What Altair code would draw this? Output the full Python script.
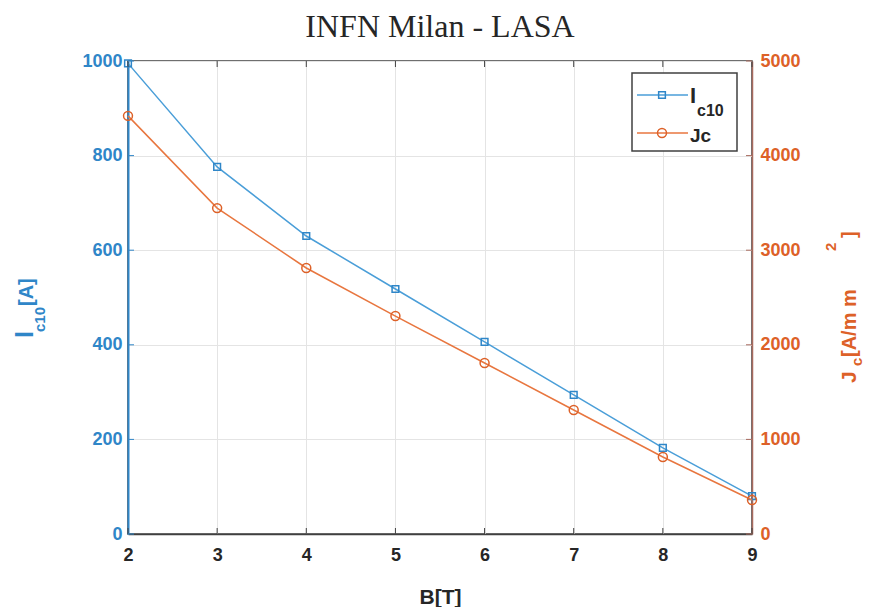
import altair as alt
import pandas as pd

B = [2, 3, 4, 5, 6, 7, 8, 9]
Ic10 = [995, 776, 630, 518, 406, 294, 182, 80]
Jc = [4420, 3445, 2812, 2304, 1808, 1311, 814, 359]

x_ticks = [2, 3, 4, 5, 6, 7, 8, 9]
left_ticks = [0, 200, 400, 600, 800, 1000]
right_ticks = [0, 1000, 2000, 3000, 4000, 5000]

BLUE = "#2F86C8"
BLUE_LINE = "#4A9ED8"
ORANGE = "#DD6128"
ORANGE_LINE = "#E8763F"
DARK = "#262626"
FONT = "Liberation Sans"

W, H = 624, 473

df = pd.DataFrame({"B": B, "Ic10": Ic10, "Jc": Jc})

xscale = alt.Scale(domain=[2, 9], nice=False)
lscale = alt.Scale(domain=[0, 1000], nice=False)
rscale = alt.Scale(domain=[0, 5000], nice=False)

x_axis = alt.Axis(values=x_ticks, title="B[T]", grid=True, gridColor="#E4E4E4",
                  ticks=False, labelPadding=12, labelColor=DARK, labelFontSize=18,
                  labelFontWeight="bold", labelFont=FONT, domainColor="#404040",
                  domainWidth=1.5, titleFont=FONT, titleFontSize=21, labelFlush=False,
                  titleFontWeight="bold", titleColor=DARK, titlePadding=22, format="d")
x_enc = alt.X("B:Q", scale=xscale, axis=x_axis)

blue_base = alt.Chart(df).encode(
    x=x_enc,
    y=alt.Y("Ic10:Q", scale=lscale,
            axis=alt.Axis(values=left_ticks, title=None, orient="left", grid=True,
                          gridColor="#E4E4E4", ticks=False, labelPadding=6, labelFlush=False,
                          labelColor=BLUE, labelFontSize=18, labelFontWeight="bold",
                          labelFont=FONT, domainColor=BLUE, domainWidth=2, format="d")),
)
blue = blue_base.mark_line(color=BLUE_LINE, strokeWidth=1.5) + blue_base.mark_point(
    shape="square", size=45, color=BLUE, strokeWidth=1.5, filled=False, opacity=1)

orange_base = alt.Chart(df).encode(
    x=x_enc,
    y=alt.Y("Jc:Q", scale=rscale,
            axis=alt.Axis(values=right_ticks, title=None, orient="right", grid=False,
                          ticks=False, labelPadding=8, labelColor=ORANGE, labelFontSize=18,
                          labelFontWeight="bold", labelFont=FONT, domainColor="#A86A5E",
                          domainWidth=1.5, format="d", labelFlush=False)),
)
orange = orange_base.mark_line(color=ORANGE_LINE, strokeWidth=1.5) + orange_base.mark_point(
    shape="circle", size=80, color=ORANGE, strokeWidth=1.5, filled=False, opacity=1)

# inward ticks
xt = pd.DataFrame({"B": x_ticks})
lt = pd.DataFrame({"t": left_ticks})
tick_top = alt.Chart(xt).mark_rule(color="#404040").encode(
    x=x_enc, y=alt.value(0), y2=alt.value(6))
tick_bot = alt.Chart(xt).mark_rule(color="#404040").encode(
    x=x_enc, y=alt.value(H), y2=alt.value(H - 6))
tick_left = alt.Chart(lt).mark_rule(color=BLUE).encode(
    y=alt.Y("t:Q", scale=lscale, axis=None), x=alt.value(0), x2=alt.value(6))
tick_right = alt.Chart(lt).mark_rule(color="#A86A5E").encode(
    y=alt.Y("t:Q", scale=lscale, axis=None), x=alt.value(W), x2=alt.value(W - 6))

one = alt.Data(values=[{}])


def txt(s, x, y, size, color, angle=0, weight="bold", font=FONT, align="left"):
    return alt.Chart(one).mark_text(
        text=s, fontSize=size, color=color, angle=angle, fontWeight=weight, font=font,
        align=align, baseline="alphabetic").encode(x=alt.value(x), y=alt.value(y))


title = txt("INFN Milan - LASA", W / 2, -24, 32, DARK, weight="normal",
            font="Liberation Serif", align="center")

left_title = [
    txt("I", -95, 277, 25, BLUE, angle=270),
    txt("c10", -83, 271, 15, BLUE, angle=270),
    txt("[A]", -95, 245, 20, BLUE, angle=270),
]
right_title = [
    txt("J", 728, 322, 21, ORANGE, angle=270),
    txt("c", 734, 305, 15, ORANGE, angle=270),
    txt("[A/m m", 728, 296, 20, ORANGE, angle=270),
    txt("2", 708, 190, 15, ORANGE, angle=270),
    txt("]", 728, 177, 20, ORANGE, angle=270),
]

# legend
leg_box = alt.Chart(one).mark_rect(fill="white", stroke="#404040", strokeWidth=1.5).encode(
    x=alt.value(504), x2=alt.value(609), y=alt.value(12), y2=alt.value(90))
leg_l1 = alt.Chart(one).mark_rule(color=BLUE_LINE, strokeWidth=1.5).encode(
    x=alt.value(509), x2=alt.value(560), y=alt.value(34))
leg_p1 = alt.Chart(one).mark_point(shape="square", size=45, color=BLUE, strokeWidth=1.5,
                                   filled=False, opacity=1).encode(x=alt.value(534), y=alt.value(34))
leg_l2 = alt.Chart(one).mark_rule(color=ORANGE_LINE, strokeWidth=1.5).encode(
    x=alt.value(509), x2=alt.value(560), y=alt.value(72))
leg_p2 = alt.Chart(one).mark_point(shape="circle", size=80, color=ORANGE, strokeWidth=1.5,
                                   filled=False, opacity=1).encode(x=alt.value(534), y=alt.value(72))
leg_t = [
    txt("I", 562, 42, 22, DARK),
    txt("c10", 569, 55, 16, DARK),
    txt("Jc", 562, 81, 19, DARK),
]

chart = alt.layer(
    blue, orange, tick_top, tick_bot, tick_left, tick_right,
    leg_box, leg_l1, leg_p1, leg_l2, leg_p2, *leg_t,
    title, *left_title, *right_title,
).resolve_scale(y="independent").properties(
    width=W, height=H,
    autosize=alt.AutoSizeParams(type="none"),
    padding={"left": 120, "top": 53, "right": 114, "bottom": 73},
).configure_view(stroke="#404040", strokeWidth=1.5)

chart.save("out.html", embed_options={"renderer": "svg", "actions": False})
